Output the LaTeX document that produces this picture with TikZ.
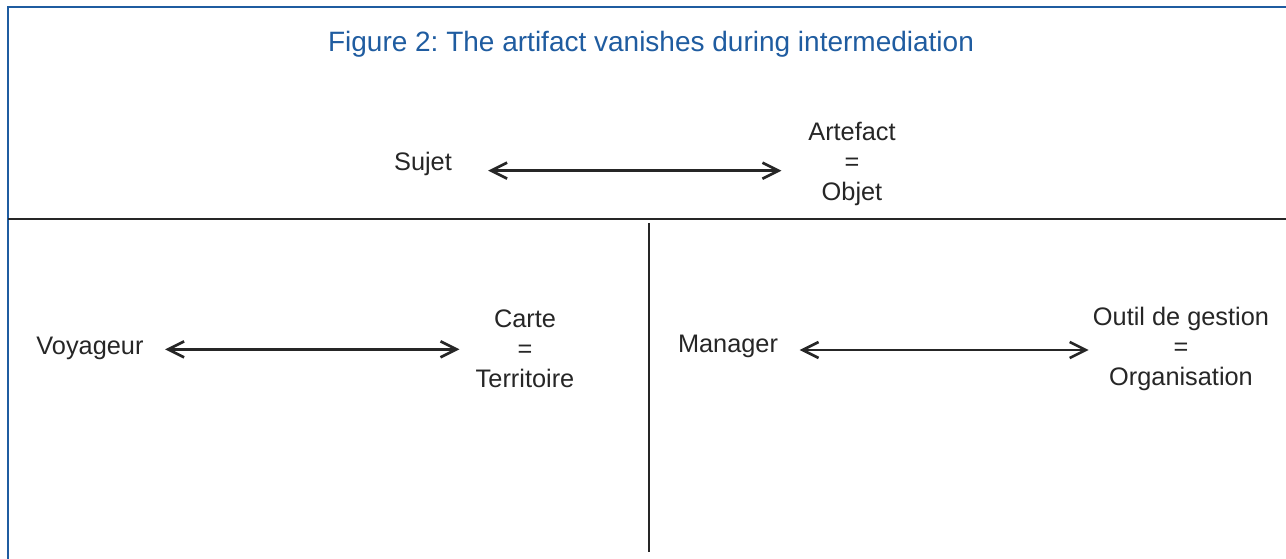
\documentclass[tikz,border=0pt]{standalone}
\usepackage{fontspec}
\setmainfont{Liberation Sans}
\usetikzlibrary{arrows.meta,positioning}
\definecolor{frameblue}{RGB}{31,92,160}
\frenchspacing

\begin{document}
\begin{tikzpicture}[x=0.75pt, y=-0.75pt,
            term/.style={inner sep=0pt, text=black!85, align=center,
            font=\fontsize{19}{22.5}\selectfont},
            link/.style={{Straight Barb[length=12pt,width=12pt]}-{Straight Barb[length=12pt,width=12pt]},
            line width=2pt, black!85},
            divider/.style={line width=1.8pt, black!85}]
            \useasboundingbox (0,0) rectangle (1286,559);

            % frame and title
            \draw [frameblue, line width=1.6pt] (8,559) -- (8,7) -- (1286,7);
            \node (title) [inner sep=0pt, text=frameblue, font=\fontsize{21}{25}\selectfont] at (651,44)
            {Figure 2: The artifact vanishes during intermediation};

            % top part
            \node (sujet) [term] at (423,164) {Sujet};
            \node (artefact) [term] at (852,164) {Artefact \\ = \\ Objet};
            \draw [link, shorten <=27pt, shorten >=20pt] ([yshift=-5pt]sujet.east) -- ([yshift=-5pt]artefact.west);

            % dividers
            \draw [divider] (8,219) -- (1286,219);
            \draw [divider] (649,223) -- (649,552);

            % left part
            \node (voyageur) [term] at (90,348) {Voyageur};
            \node (carte) [term] at (525,349) {Carte \\ = \\ Territoire};
            \draw [link, shorten <=16pt, shorten >=12pt] ([yshift=-1pt]voyageur.east) -- ([yshift=-1pt]voyageur.east -| carte.west);

            % right part
            \node (manager) [term] at (728,346) {Manager};
            \node (outil) [term] at (1181,349) {Outil de gestion \\ = \\ Organisation};
            \draw [link, shorten <=16pt, shorten >=3pt] ([yshift=-3pt]manager.east) -- ([yshift=-3pt]manager.east -| outil.west);
\end{tikzpicture}
\end{document}
